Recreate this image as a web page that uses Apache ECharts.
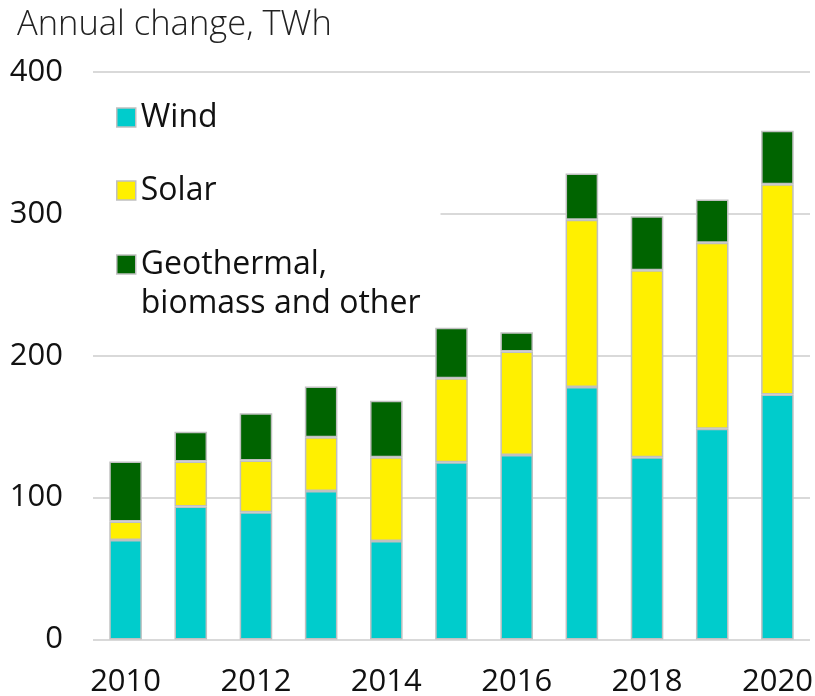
<!DOCTYPE html>
<html>
<head>
<meta charset="utf-8">
<script src="https://cdn.jsdelivr.net/npm/echarts@6/dist/echarts.min.js"></script>
<style>
html,body{margin:0;padding:0;background:#fff;}
#chart{width:815px;height:696px;}
</style>
</head>
<body>
<div id="chart"></div>
<script>
const years = ['2010','2011','2012','2013','2014','2015','2016','2017','2018','2019','2020'];
const windValues = [70.2, 93.7, 89.7, 104.7, 69.5, 125.0, 130.1, 178.0, 128.4, 148.5, 172.6];
const solarValues = [12.9, 31.7, 36.4, 37.9, 58.9, 59.1, 72.9, 117.9, 131.8, 131.1, 148.3];
const otherValues = [42.3, 21.1, 33.4, 35.7, 39.8, 35.6, 13.5, 32.6, 38.1, 30.5, 37.7];
const yTicks = [0, 100, 200, 300, 400];
const seriesNames = ['Wind', 'Solar', 'Geothermal,\nbiomass and other'];
const seriesColors = ['#00CCCC', '#FFF000', '#006400'];

const FONT = '"Open Sans", "Liberation Sans", sans-serif';
const chart = echarts.init(document.getElementById('chart'), null, {renderer: 'canvas'});

const barStyle = (c) => ({color: c, borderColor: '#c0c0c0', borderWidth: 1.5});
const legendText = {fontFamily: FONT, fontSize: 32, color: '#111', lineHeight: 39};
const legendIcon = {borderColor: '#c0c0c0', borderWidth: 1.5};

chart.setOption({
  animation: false,
  backgroundColor: '#ffffff',
  title: {
    text: 'Annual change, TWh',
    left: 12,
    top: 3,
    textStyle: {fontFamily: FONT, fontSize: 34.5, fontWeight: 300, color: '#222'}
  },
  legend: [
    {
      data: [seriesNames[0], seriesNames[1]],
      orient: 'vertical',
      left: 93,
      top: 98,
      padding: [0, 20, 0, 23],
      itemGap: 34,
      itemWidth: 19,
      itemHeight: 19,
      icon: 'rect',
      itemStyle: legendIcon,
      backgroundColor: '#ffffff',
      textStyle: legendText
    },
    {
      data: [seriesNames[2]],
      formatter: (name) => '\n' + name,
      orient: 'vertical',
      left: 93,
      top: 206,
      padding: [0, 20, 4, 23],
      itemWidth: 19,
      itemHeight: 19,
      icon: 'rect',
      itemStyle: legendIcon,
      backgroundColor: '#ffffff',
      textStyle: legendText
    }
  ],
  grid: {left: 93, right: 5, top: 72, bottom: 56.5, containLabel: false, outerBoundsMode: 'none'},
  xAxis: {
    type: 'category',
    data: years,
    axisLine: {show: false},
    axisTick: {show: false},
    axisLabel: {interval: 1, fontFamily: FONT, fontSize: 31, color: '#111', margin: 27}
  },
  yAxis: {
    type: 'value',
    min: yTicks[0],
    max: yTicks[yTicks.length - 1],
    interval: 100,
    axisLine: {show: false},
    axisTick: {show: false},
    splitLine: {lineStyle: {color: '#d9d9d9', width: 2}},
    axisLabel: {fontFamily: FONT, fontSize: 31, color: '#111', margin: 30}
  },
  series: [
    {name: seriesNames[0], type: 'bar', stack: 'total', barWidth: '50%', data: windValues, itemStyle: barStyle(seriesColors[0])},
    {name: seriesNames[1], type: 'bar', stack: 'total', barWidth: '50%', data: solarValues, itemStyle: barStyle(seriesColors[1])},
    {name: seriesNames[2], type: 'bar', stack: 'total', barWidth: '50%', data: otherValues, itemStyle: barStyle(seriesColors[2])}
  ]
});
</script>
</body>
</html>
